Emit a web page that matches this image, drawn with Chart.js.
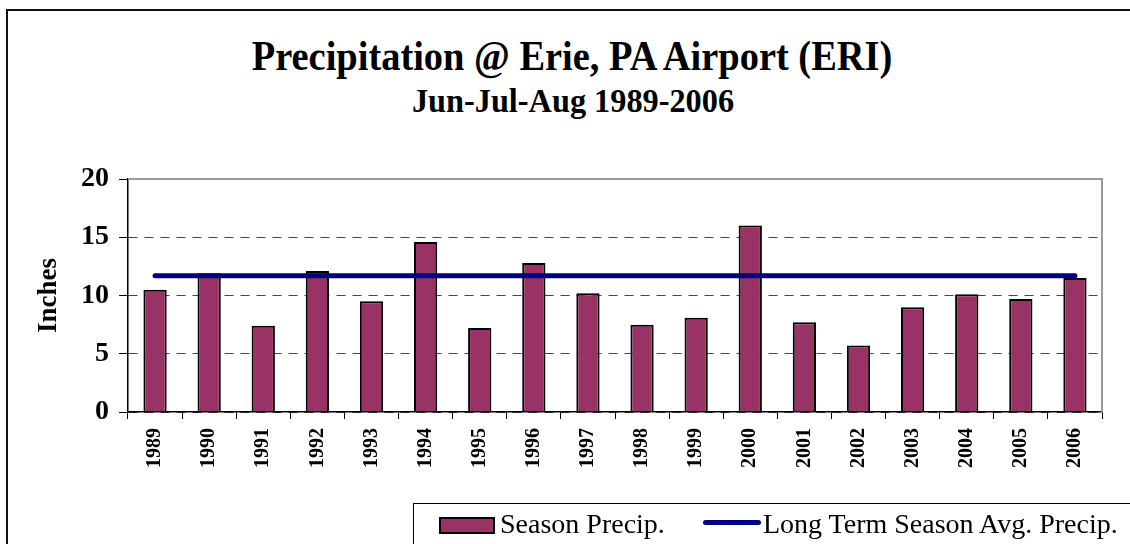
<!DOCTYPE html>
<html>
<head>
<meta charset="utf-8">
<script src="https://cdn.jsdelivr.net/npm/chart.js@4.4.0/dist/chart.umd.min.js"></script>
<style>
    body { margin: 0; width: 1130px; height: 544px; overflow: hidden; position: relative; background: #fff;
           font-family: "Liberation Serif", "Times New Roman", serif; }
    #frame { position: absolute; left: 6px; top: 9px; width: 1140px; height: 560px; border: 2px solid #111; box-sizing: border-box; }
    #title { position: absolute; left: 0; width: 1144px; top: 32px; text-align: center; font-weight: bold; font-size: 42px; line-height: 48px; transform: scaleX(0.915); white-space: nowrap; }
    #subtitle { position: absolute; left: 0; width: 1146px; top: 82px; text-align: center; font-weight: bold; font-size: 34px; line-height: 38px; transform: scaleX(0.95); white-space: nowrap; }
    #chart { position: absolute; left: 0; top: 0; }
    #legend { position: absolute; left: 413px; top: 503px; width: 800px; height: 100px; border: 1px solid #000; box-sizing: border-box; }
    .item { position: absolute; font-size: 28px; line-height: 40px; white-space: nowrap; }
    .swatch-bar { position: absolute; left: 439px; top: 517px; width: 56px; height: 17px; background: #993366; border: 2px solid #000; box-sizing: border-box; }
    .swatch-line { position: absolute; left: 703px; top: 520px; width: 58px; height: 5px; background: #000080; border-radius: 3px; }
</style>
</head>
<body>
<div id="frame"></div>
<div id="title">Precipitation @ Erie, PA Airport (ERI)</div>
<div id="subtitle">Jun-Jul-Aug 1989-2006</div>
<canvas id="chart" width="1130" height="544"></canvas>
<div id="legend"></div>
<div class="swatch-bar"></div>
<div class="item" style="left:500px; top:504px;">Season Precip.</div>
<div class="swatch-line"></div>
<div class="item" style="left:763px; top:504px;">Long Term Season Avg. Precip.</div>

<script>
// Data
const years = ['1989', '1990', '1991', '1992', '1993', '1994', '1995', '1996', '1997',
               '1998', '1999', '2000', '2001', '2002', '2003', '2004', '2005', '2006'];
const seasonPrecip = [10.5, 11.9, 7.4, 12.1, 9.5, 14.6, 7.2, 12.8, 10.2,
                      7.5, 8.1, 16.0, 7.7, 5.7, 9.0, 10.1, 9.7, 11.5];
const longTermAvg = years.map(() => 11.7);
const yTicks = [0, 5, 10, 15, 20];

// Gray frame on top and right of the plot area
const plotFrame = {
    id: 'plotFrame',
    afterDraw(chart) {
        const { ctx, chartArea: a } = chart;
        ctx.save();
        ctx.strokeStyle = '#999';
        ctx.lineWidth = 2;
        ctx.beginPath();
        ctx.moveTo(a.left, a.top);
        ctx.lineTo(a.right, a.top);
        ctx.lineTo(a.right, a.bottom);
        ctx.stroke();
        ctx.restore();
    }
};

const ctx = document.getElementById('chart').getContext('2d');
new Chart(ctx, {
    data: {
        labels: years,
        datasets: [
            {
                type: 'line',
                label: 'Long Term Season Avg. Precip.',
                data: longTermAvg,
                borderColor: '#000080',
                borderWidth: 5,
                borderCapStyle: 'round',
                pointRadius: 0,
                fill: false,
                order: 0
            },
            {
                type: 'bar',
                label: 'Season Precip.',
                data: seasonPrecip,
                backgroundColor: '#993366',
                borderColor: '#000',
                borderWidth: 2,
                barPercentage: 0.43,
                categoryPercentage: 1,
                order: 1
            }
        ]
    },
    options: {
        responsive: false,
        devicePixelRatio: 1,
        animation: false,
        layout: { padding: { top: 179, left: 0, right: 28, bottom: 72 } },
        plugins: { legend: { display: false }, tooltip: { enabled: false } },
        scales: {
            x: {
                offset: true,
                afterFit: s => { s.height = 60; },
                grid: { drawOnChartArea: false, drawTicks: true, tickLength: 7, tickColor: '#000', offset: true },
                border: { color: '#000', width: 1.5 },
                ticks: {
                    autoSkip: false, minRotation: 90, maxRotation: 90, padding: 9,
                    color: '#000', font: { family: 'Liberation Serif', weight: 'bold', size: 20 }
                }
            },
            y: {
                min: 0, max: 20,
                afterFit: s => { s.width = 128; },
                afterBuildTicks: s => { s.ticks = yTicks.map(v => ({ value: v })); },
                title: {
                    display: true, text: 'Inches', color: '#000', padding: { top: 33, bottom: 0 },
                    font: { family: 'Liberation Serif', weight: 'bold', size: 27 }
                },
                grid: {
                    color: c => (c.tick && c.tick.value === 20) ? 'rgba(0,0,0,0)' : '#444',
                    tickColor: '#000', tickLength: 9, tickBorderDash: [], lineWidth: 1
                },
                border: { color: '#000', width: 1.5, dash: [9, 7] },
                ticks: {
                    padding: 10, color: '#000',
                    font: { family: 'Liberation Serif', weight: 'bold', size: 28 }
                }
            }
        }
    },
    plugins: [plotFrame]
});
</script>
</body>
</html>
